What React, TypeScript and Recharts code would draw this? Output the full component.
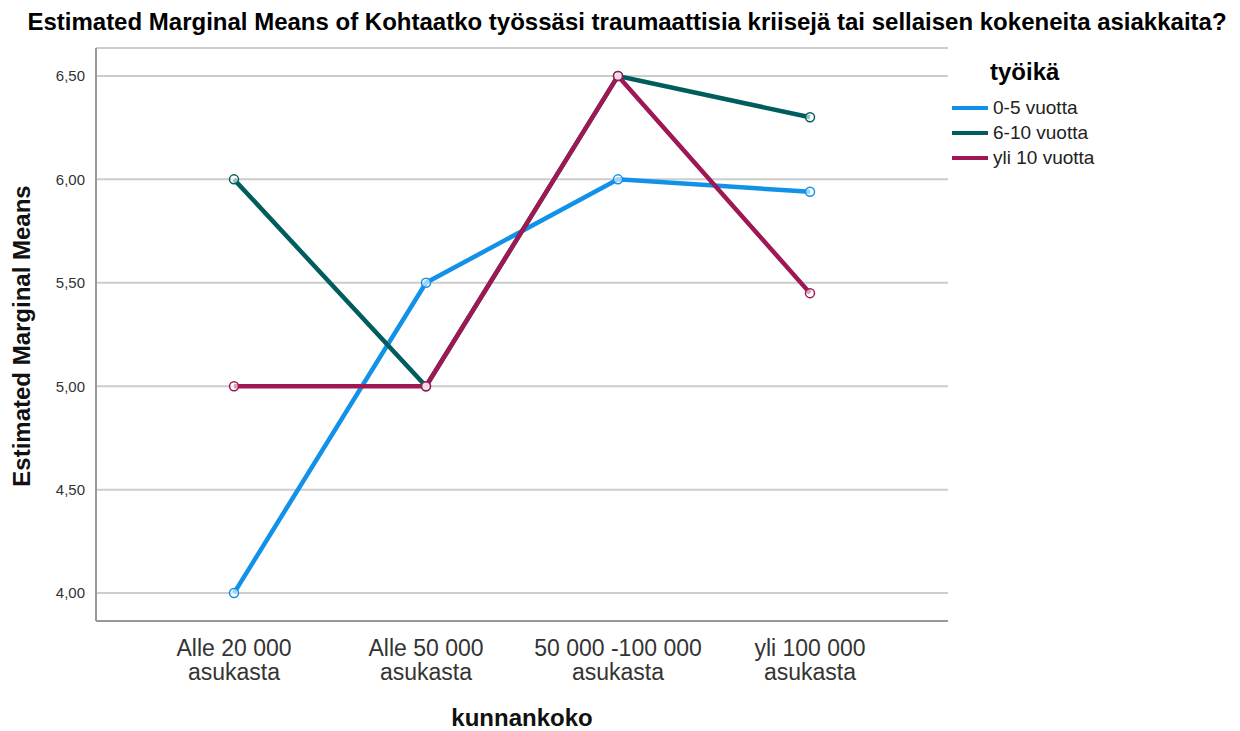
import React from 'react';
import { LineChart, Line, XAxis, YAxis, CartesianGrid } from 'recharts';

const categories = ['Alle 20 000\nasukasta', 'Alle 50 000\nasukasta', '50 000 -100 000\nasukasta', 'yli 100 000\nasukasta'];
const years0to5 = [4.0, 5.5, 6.0, 5.94];
const years6to10 = [6.0, 5.0, 6.5, 6.3];
const yearsOver10 = [5.0, 5.0, 6.5, 5.45];
const yTicks = [4.0, 4.5, 5.0, 5.5, 6.0, 6.5];

const series = [
  { key: 'a', name: '0-5 vuotta', color: '#1192e8', values: years0to5 },
  { key: 'b', name: '6-10 vuotta', color: '#005d5d', values: years6to10 },
  { key: 'c', name: 'yli 10 vuotta', color: '#9f1853', values: yearsOver10 },
];

const data = categories.map((c, i) => {
  const row: Record<string, string | number> = { cat: c };
  series.forEach(s => { row[s.key] = s.values[i]; });
  return row;
});

const FONT = '"Liberation Sans", Arial, sans-serif';

function CatTick({ x, y, payload }: any) {
  const lines = String(payload.value).split('\n');
  return (
    <text x={x} y={y} textAnchor="middle" fill="#333" fontSize={23} fontFamily={FONT}>
      {lines.map((l, i) => (
        <tspan key={i} x={x} dy={i === 0 ? 27 : 24}>{l}</tspan>
      ))}
    </text>
  );
}

function YTitle() {
  return (
    <text x={30} y={336} transform="rotate(-90, 30, 336)" textAnchor="middle" fontSize={24} fontWeight="bold" fill="#111" fontFamily={FONT}>
      Estimated Marginal Means
    </text>
  );
}

function XTitle() {
  return (
    <text x={522} y={726} textAnchor="middle" fontSize={24} fontWeight="bold" fill="#111" fontFamily={FONT}>
      kunnankoko
    </text>
  );
}

export default function App() {
  return (
    <div style={{ position: 'relative', width: 1240, height: 731, background: '#fff' }}>
      <style>{'body{margin:0}'}</style>
      <div style={{ position: 'absolute', top: 8, left: 0, width: 1254, textAlign: 'center', fontFamily: FONT, fontWeight: 'bold', fontSize: 24, color: '#000', whiteSpace: 'nowrap' }}>
        Estimated Marginal Means of Kohtaatko työssäsi traumaattisia kriisejä tai sellaisen kokeneita asiakkaita?
      </div>
      <LineChart width={1240} height={731} data={data} margin={{ top: 48, right: 292, bottom: 0, left: 36 }}>
        <CartesianGrid horizontal vertical={false} stroke="#cccccc" strokeWidth={2} />
        <XAxis
          dataKey="cat"
          interval={0}
          height={110}
          padding={{ left: 138, right: 138 }}
          tickLine={false}
          axisLine={{ stroke: '#999', strokeWidth: 2 }}
          tick={<CatTick />}
          label={<XTitle />}
        />
        <YAxis
          type="number"
          domain={[3.865, 6.635]}
          ticks={yTicks}
          width={60}
          tickLine={false}
          axisLine={{ stroke: '#999', strokeWidth: 2 }}
          tickFormatter={(v: number) => v.toFixed(2).replace('.', ',')}
          tick={{ fill: '#333', fontSize: 15, fontFamily: FONT }}
          tickMargin={5}
          label={<YTitle />}
        />
        {series.map(s => (
          <Line
            key={s.key}
            dataKey={s.key}
            name={s.name}
            stroke={s.color}
            strokeWidth={4.5}
            type="linear"
            dot={{ r: 4.5, stroke: s.color, strokeWidth: 1.5, fill: '#fff', fillOpacity: 0.6 }}
            activeDot={false}
            isAnimationActive={false}
          />
        ))}
      </LineChart>
      <div style={{ position: 'absolute', left: 952, top: 57, fontFamily: FONT }}>
        <div style={{ fontWeight: 'bold', fontSize: 24, marginLeft: 38, height: 30, lineHeight: '30px', marginBottom: 8 }}>työikä</div>
        {series.map(s => (
          <div key={s.key} style={{ display: 'flex', alignItems: 'center', height: 25 }}>
            <span style={{ width: 36, height: 4, background: s.color, marginRight: 5 }} />
            <span style={{ fontSize: 19, color: '#222' }}>{s.name}</span>
          </div>
        ))}
      </div>
    </div>
  );
}
